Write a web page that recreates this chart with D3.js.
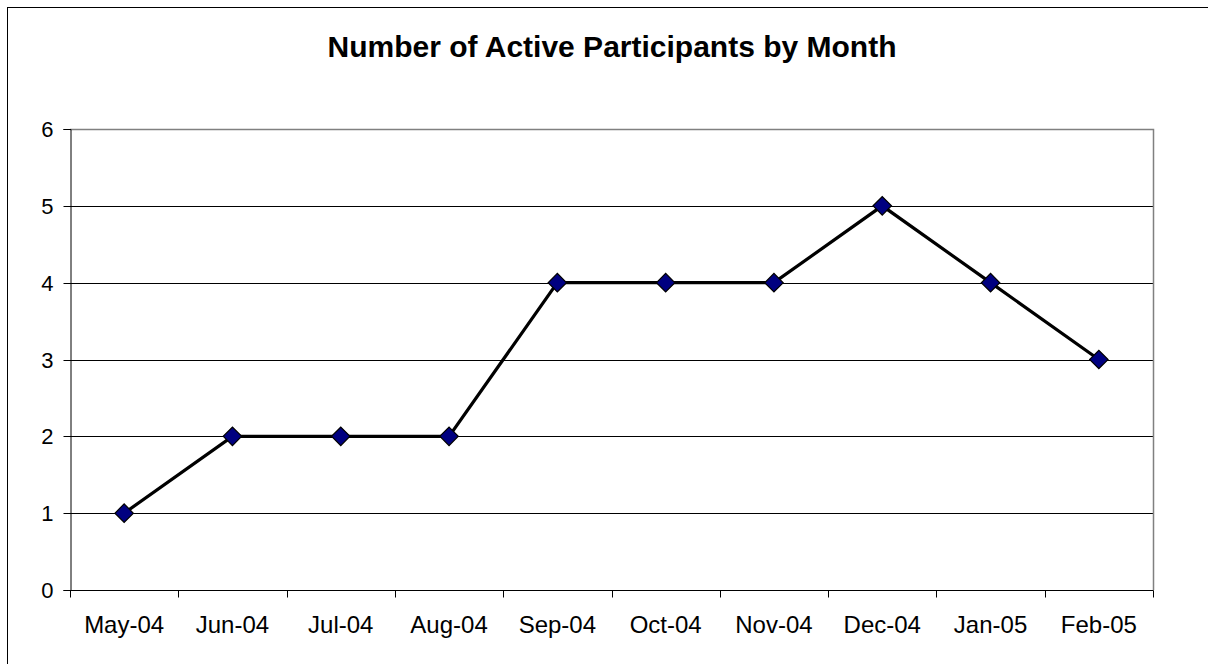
<!DOCTYPE html>
<html><head><meta charset="utf-8">
<script src="https://cdn.jsdelivr.net/npm/d3@7"></script>
<style>html,body{margin:0;padding:0;background:#fff;}svg{display:block;}</style>
</head><body>
<svg id="chart" width="1208" height="664"></svg>
<script>
const title = "Number of Active Participants by Month";
const months = ["May-04","Jun-04","Jul-04","Aug-04","Sep-04","Oct-04","Nov-04","Dec-04","Jan-05","Feb-05"];
const participants = [1,2,2,2,4,4,4,5,4,3];
const yTicks = [0,1,2,3,4,5,6];

const svg = d3.select("#chart");
const m = {left:70, right:1153, top:129, bottom:590};
const font = "Arial, 'Liberation Sans', sans-serif";

svg.append("rect").attr("x",7.5).attr("y",7.5).attr("width",1220).attr("height",700)
  .attr("fill","#fff").attr("stroke","#000").attr("stroke-width",1);

svg.append("text").attr("x",612).attr("y",57).attr("text-anchor","middle")
  .attr("font-family",font).attr("font-weight","bold").attr("font-size",30).attr("fill","#000")
  .text(title);

const x = d3.scaleBand().domain(months).range([m.left, m.right]).paddingInner(0).paddingOuter(0);
const y = d3.scaleLinear().domain([0,6]).range([m.bottom, m.top]);

// gridlines
svg.append("g").selectAll("line").data(yTicks.filter(d=>d>0 && d<6)).join("line")
  .attr("x1",m.left).attr("x2",m.right)
  .attr("y1",d=>Math.round(y(d))+0.5).attr("y2",d=>Math.round(y(d))+0.5)
  .attr("stroke","#000").attr("stroke-width",1);
// plot frame top and right (grey)
svg.append("path")
  .attr("d",`M${m.left},${Math.round(y(6))+0.5}H${m.right+0.5}V${m.bottom}`)
  .attr("fill","none").attr("stroke","#808080").attr("stroke-width",1.5);

// y axis
const yAxis = d3.axisLeft(y).tickValues(yTicks).tickSize(7).tickPadding(10).tickFormat(d3.format("d"));
const gy = svg.append("g").attr("transform",`translate(${m.left+0.5},0)`).call(yAxis);
gy.select(".domain").attr("stroke","#000");
gy.selectAll(".tick line").attr("stroke","#000");
gy.selectAll(".tick").attr("transform",d=>`translate(0,${Math.round(y(d))+0.5})`);
gy.selectAll("text").attr("font-family",font).attr("font-size",22).attr("fill","#000").attr("dy","0.36em");

// x axis: ticks at category boundaries
const gx = svg.append("g").attr("transform",`translate(0,${m.bottom+0.5})`);
gx.append("line").attr("x1",m.left).attr("x2",m.right+0.5).attr("stroke","#000");
const bounds = months.map(d=>x(d)).concat([x(months[months.length-1])+x.bandwidth()]);
gx.selectAll("line.tk").data(bounds).join("line").attr("class","tk")
  .attr("x1",d=>Math.round(d)+0.5).attr("x2",d=>Math.round(d)+0.5).attr("y1",0).attr("y2",7)
  .attr("stroke","#000");
gx.selectAll("text").data(months).join("text")
  .attr("x",d=>x(d)+x.bandwidth()/2).attr("y",42).attr("text-anchor","middle")
  .attr("font-family",font).attr("font-size",24).attr("fill","#000").text(d=>d);

// line
const cx = d=>x(d)+x.bandwidth()/2;
const line = d3.line().x((d,i)=>cx(months[i])).y(d=>y(d));
svg.append("path").datum(participants).attr("d",line)
  .attr("fill","none").attr("stroke","#000").attr("stroke-width",3.2).attr("stroke-linejoin","miter");

// markers
const sym = d3.symbol().type(d3.symbolSquare).size(170);
svg.append("g").selectAll("path").data(participants).join("path")
  .attr("d",sym)
  .attr("transform",(d,i)=>`translate(${cx(months[i])},${y(d)}) rotate(45)`)
  .attr("fill","#000080").attr("stroke","#000").attr("stroke-width",1.2);
</script>
</body></html>
